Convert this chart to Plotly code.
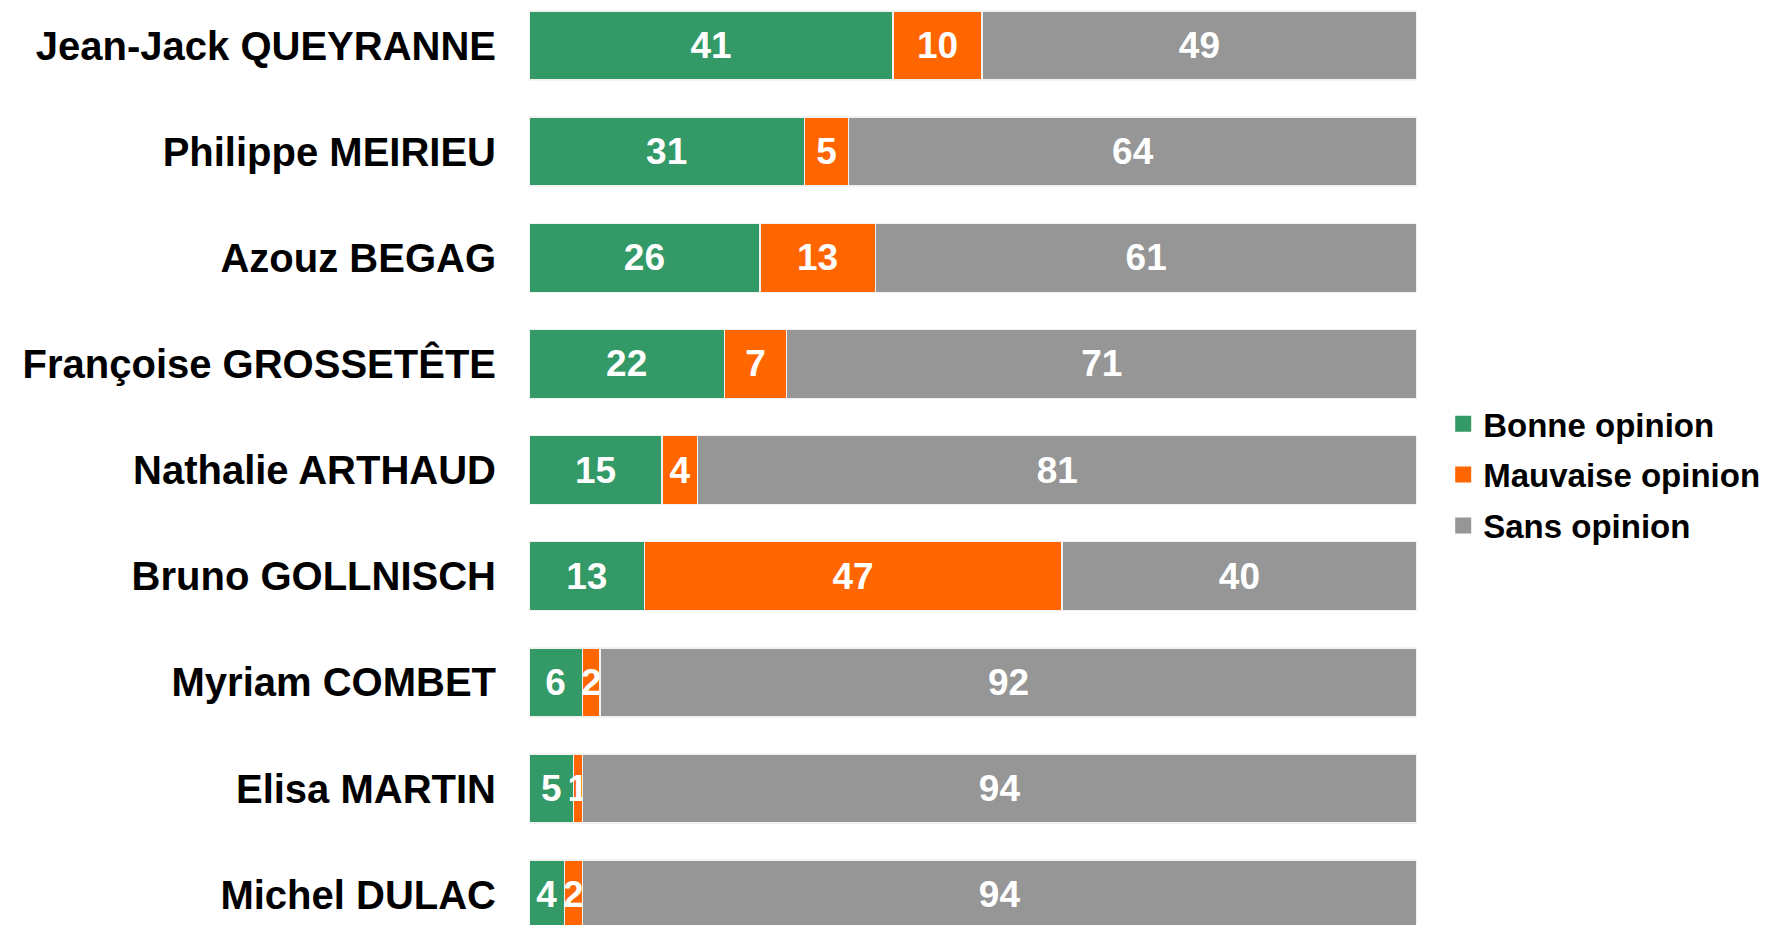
import plotly.graph_objects as go

candidats = [
    "Jean-Jack QUEYRANNE",
    "Philippe MEIRIEU",
    "Azouz BEGAG",
    "Françoise GROSSETÊTE",
    "Nathalie ARTHAUD",
    "Bruno GOLLNISCH",
    "Myriam COMBET",
    "Elisa MARTIN",
    "Michel DULAC",
]
bonne = [41, 31, 26, 22, 15, 13, 6, 5, 4]
mauvaise = [10, 5, 13, 7, 4, 47, 2, 1, 2]
sans = [49, 64, 61, 71, 81, 40, 92, 94, 94]

series = [
    ("Bonne opinion", bonne, "#339966"),
    ("Mauvaise opinion", mauvaise, "#FF6600"),
    ("Sans opinion", sans, "#969696"),
]

FONT = "Liberation Sans, Arial, sans-serif"

fig = go.Figure()
for name, vals, color in series:
    fig.add_trace(go.Bar(
        name=name,
        y=candidats,
        x=vals,
        orientation="h",
        marker=dict(color=color, line=dict(color="#f2f2f2", width=1.5)),
        text=[str(v) for v in vals],
        textposition="inside",
        insidetextanchor="middle",
        textangle=0,
        constraintext="none",
        textfont=dict(family=FONT, size=37, color="white", weight="bold"),
        hoverinfo="skip",
        showlegend=False,
    ))
    # legend entry with a larger square swatch
    fig.add_trace(go.Scatter(
        name=name,
        x=[None], y=[None],
        mode="markers",
        marker=dict(symbol="square", size=16, color=color),
        legendgroup=name,
        showlegend=True,
        hoverinfo="skip",
    ))

fig.update_layout(
    barmode="stack",
    bargap=0.35,
    width=1767,
    height=917,
    margin=dict(l=521, r=358, t=0, b=0),
    paper_bgcolor="white",
    plot_bgcolor="white",
    legend=dict(
        x=1.0295, xanchor="left",
        y=0.491, yanchor="middle",
        font=dict(family=FONT, size=33, color="black", weight="bold"),
        tracegroupgap=5,
        bgcolor="rgba(0,0,0,0)",
    ),
    xaxis=dict(range=[0, 100], visible=False, fixedrange=True),
    yaxis=dict(
        type="category",
        categoryorder="array",
        categoryarray=candidats,
        range=[8.286, -0.3533],
        autorange=False,
        showgrid=False,
        zeroline=False,
        showline=False,
        ticks="",
        ticklabelstandoff=32,
        tickfont=dict(family=FONT, size=40, color="black", weight="bold"),
    ),
)

fig.write_html("out.html")
